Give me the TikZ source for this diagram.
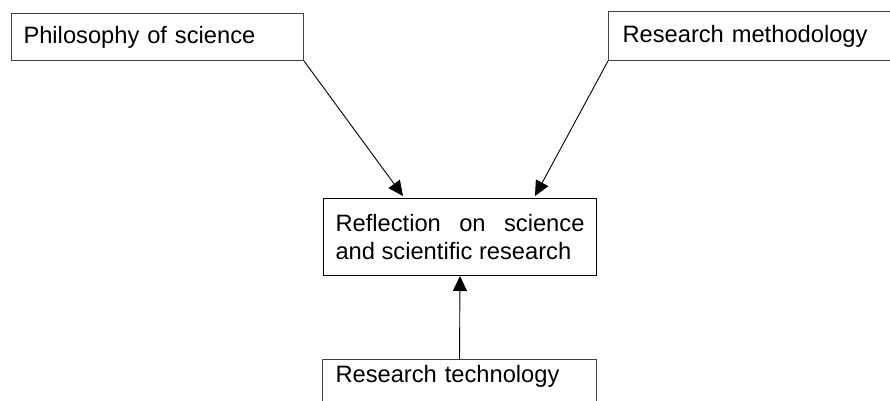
\documentclass[tikz,border=0pt]{standalone}
\usepackage{fontspec}
\setmainfont{Liberation Sans}
\usepackage{tikz}
\usetikzlibrary{arrows.meta}
\tikzset{
    box/.style={draw=black!75, line width=1pt, rectangle, anchor=north west,
        align=left, font=\fontsize{23.7}{28}\selectfont},
    link/.style={line width=0.9pt, -{Triangle[length=15pt,width=14pt]}}
}

\begin{document}
\begin{tikzpicture}[x=1pt,y=-1pt]
                \useasboundingbox (0,0) rectangle (890,400);
                \clip (0,0) rectangle (890,400);
                %boxes
                \node[box, inner xsep=12pt, text width=268pt, minimum height=47pt]
                    (philo) at (11,13) {Philosophy of science};
                \node[box, inner xsep=14pt, text width=272pt, minimum height=49pt]
                    (method) at (608,11) {Research methodology};
                \node[box, draw=black, inner xsep=12pt, text width=249pt, minimum height=77pt, align=justify]
                    (reflect) at (323,198) {Reflection on science\linebreak and scientific research};
                \node[box, inner xsep=13pt, inner ysep=6pt, text width=248pt, text height=17pt, text depth=24pt]
                    (techno) at (322,359) {Research technology};
                %arrows
                \draw[link] (philo.south east) -- ([xshift=80pt,yshift=2pt]reflect.north west);
                \draw[link] (method.south west) -- ([xshift=212pt,yshift=2pt]reflect.north west);
                \draw[link] (techno.north) -- (reflect.south);
            \end{tikzpicture}
\end{document}
